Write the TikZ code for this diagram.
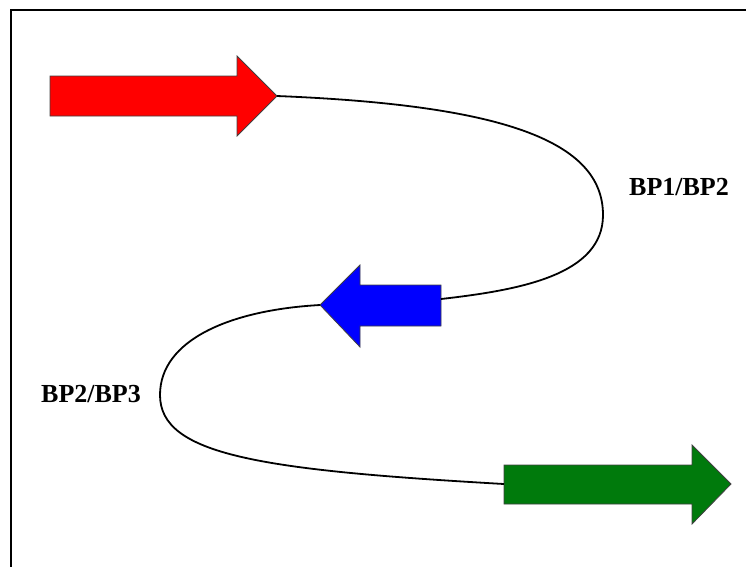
\documentclass[tikz,border=0pt]{standalone}
\usepackage{fontspec}
\setmainfont{Liberation Serif}
\begin{document}
\begin{tikzpicture}[x=1pt,y=-1pt,
  frame/.style={line width=2.4pt,draw=black},
  blockarrow/.style={draw=black!75,line width=0.8pt,line join=miter},
  linker/.style={line width=1.8pt,draw=black},
  bplabel/.style={font=\fontsize{26}{30}\selectfont\bfseries,inner sep=0pt}]
\definecolor{geneRed}{RGB}{255,0,0}
\definecolor{geneBlue}{RGB}{0,0,255}
\definecolor{geneGreen}{RGB}{0,122,12}

\useasboundingbox (0,0) rectangle (746,566);
\clip (0,0) rectangle (746,566);

% outer frame (right and bottom edges run off the page)
\draw[frame] (11,590) -- (11,10) -- (770,10);

% red gene, pointing right
\draw[blockarrow,fill=geneRed]
  (50,76) -- (237,76) -- (237,56) -- (277,96) -- (237,136) -- (237,116) -- (50,116) -- cycle;
\coordinate (redtip) at (277,96);

% blue gene, pointing left
\draw[blockarrow,fill=geneBlue]
  (441,285) -- (360,285) -- (360,265) -- (320,305) -- (360,347) -- (360,326) -- (441,326) -- cycle;
\coordinate (bluetail) at (441,299);
\coordinate (bluetip) at (320,305);

% green gene, pointing right
\draw[blockarrow,fill=geneGreen]
  (504,465) -- (692,465) -- (692,445) -- (731,484) -- (692,524) -- (692,504) -- (504,504) -- cycle;
\coordinate (greentail) at (504,484);

% breakpoint loops
\coordinate (bend1) at (603,215);
\coordinate (bend2) at (160,395);
\draw[linker] (redtip) .. controls (500,105) and (603,140) .. (bend1)
  .. controls (603,275) and (520,290) .. (bluetail);
\draw[linker] (bluetip) .. controls (230,310) and (160,340) .. (bend2)
  .. controls (160,455) and (260,470) .. (greentail);

\node[bplabel] (bp12) at (679,187) {BP1/BP2};
\node[bplabel] (bp23) at (91,394) {BP2/BP3};
\end{tikzpicture}
\end{document}
